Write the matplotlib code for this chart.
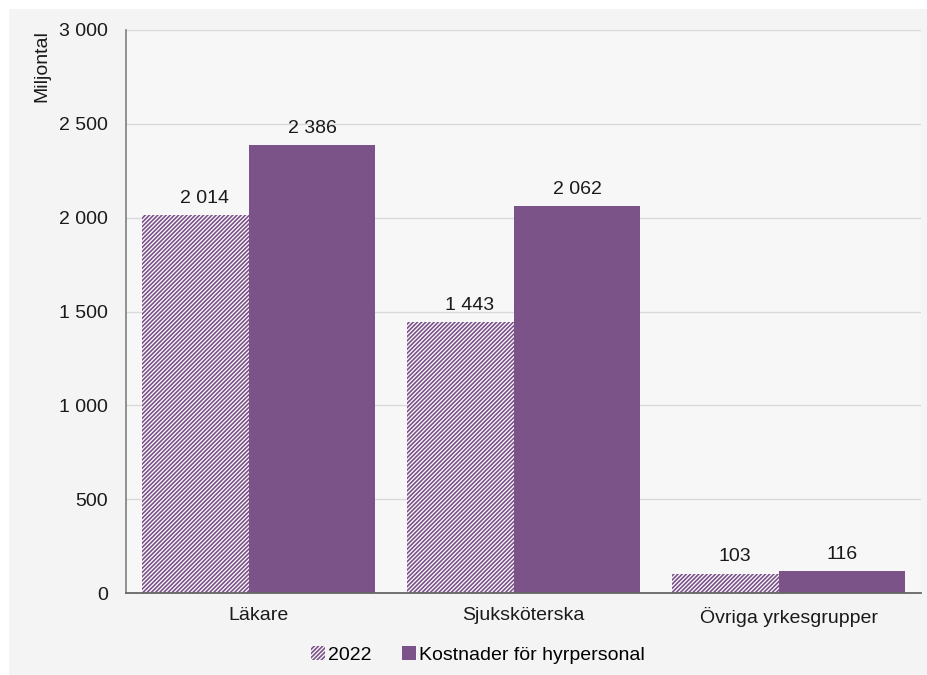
import matplotlib.pyplot as plt
from matplotlib.patches import Patch, Rectangle
from matplotlib.ticker import FuncFormatter

categories = ["Läkare", "Sjuksköterska", "Övriga yrkesgrupper"]
values_2022 = [2014, 1443, 103]
values_hyr = [2386, 2062, 116]
series_names = ["2022", "Kostnader för hyrpersonal"]
y_ticks = [0, 500, 1000, 1500, 2000, 2500, 3000]

PURPLE = "#7b5389"
PANEL = "#f4f4f4"
FS = 14

plt.rcParams["font.family"] = ["Liberation Sans", "DejaVu Sans"]
plt.rcParams["font.size"] = FS
plt.rcParams["hatch.linewidth"] = 0.9


def fmt_space(v, _pos=None):
    return f"{int(round(v)):,}".replace(",", " ")


fig = plt.figure(figsize=(9.28, 6.75), dpi=100, facecolor="white")
fig.patches.append(Rectangle((9 / 928, 0), 1, 1 - 9 / 675, transform=fig.transFigure,
                             facecolor=PANEL, edgecolor="none", zorder=-10))

ax = fig.add_axes([126 / 928, 82 / 675, 795 / 928, 563 / 675])
ax.set_facecolor("#f7f7f7")

x = list(range(len(categories)))
offset = 0.202
width = 0.475

bars_a = ax.bar([i - offset for i in x], values_2022, width=width, color=PURPLE,
                edgecolor="white", linewidth=0, hatch="////////", zorder=2)
bars_b = ax.bar([i + offset for i in x], values_hyr, width=width, color=PURPLE,
                linewidth=0, zorder=3)

for bars in (bars_a, bars_b):
    for b in bars:
        ax.annotate(fmt_space(b.get_height()),
                    (b.get_x() + b.get_width() / 2, b.get_height()),
                    xytext=(0, 6), textcoords="offset points",
                    ha="center", va="bottom", fontsize=FS, color="#1a1a1a", zorder=5)

ax.set_xlim(-0.5, len(categories) - 0.5)
ax.set_ylim(0, 3000)
ax.set_yticks(y_ticks)
ax.yaxis.set_major_formatter(FuncFormatter(fmt_space))
ax.set_xticks(x)
ax.set_xticklabels(categories)
ax.tick_params(axis="y", length=0, pad=13, labelsize=FS, labelcolor="#1a1a1a")
ax.tick_params(axis="x", length=0, pad=10, labelsize=FS, labelcolor="#1a1a1a")

ax.grid(axis="y", color="#d9d9d9", linewidth=1, zorder=0)
ax.set_axisbelow(True)
for side in ("top", "right"):
    ax.spines[side].set_visible(False)
ax.spines["left"].set_color("#808080")
ax.spines["left"].set_linewidth(1.2)
ax.spines["bottom"].set_color("#666666")
ax.spines["bottom"].set_linewidth(1.3)
ax.spines["bottom"].set_zorder(4)

fig.text(42 / 928, 1 - 30 / 675, "Miljontal", rotation=90, ha="center", va="top",
         fontsize=FS, color="#1a1a1a")

handles = [
    Patch(facecolor=PURPLE, edgecolor="white", linewidth=0, hatch="////////"),
    Patch(facecolor=PURPLE, linewidth=0),
]
fig.legend(handles, series_names, loc="center", bbox_to_anchor=(478 / 928, 1 - 655 / 675),
           ncol=2, frameon=False, fontsize=FS, handlelength=0.7, handleheight=0.7,
           handletextpad=0.15, columnspacing=1.6)

fig.savefig("out.png", dpi=100, facecolor=fig.get_facecolor())
